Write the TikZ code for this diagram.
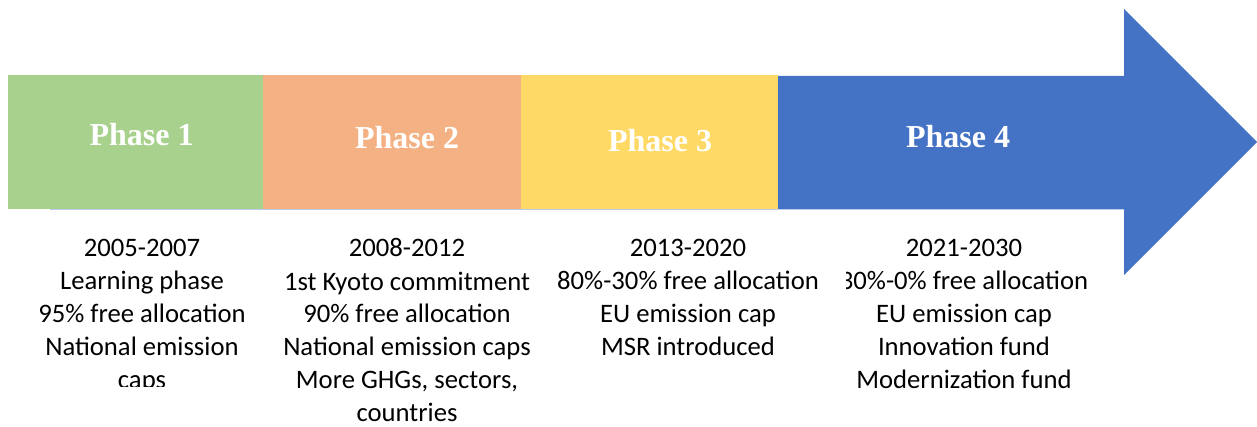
\documentclass[tikz,border=0pt]{standalone}
\usepackage{fontspec}
\setmainfont{Carlito}
\newfontfamily\headfont{Liberation Serif}
\usetikzlibrary{positioning}
\definecolor{phgreen}{HTML}{A9D18E}
\definecolor{phorange}{HTML}{F4B183}
\definecolor{phyellow}{HTML}{FFD966}
\definecolor{phblue}{HTML}{4472C4}
\tikzset{
  phasehead/.style={text=white,font=\headfont\bfseries\fontsize{24}{28}\selectfont,anchor=base,inner sep=0pt},
  % base sits on the last line of the note
  phasenote/.style={align=center,font=\fontsize{20}{24.75}\selectfont,anchor=base,inner sep=0pt}
}

\begin{document}
\begin{tikzpicture}[x=0.75pt,y=-0.75pt]
  \useasboundingbox (0,0) rectangle (1257,427);
  % big arrow behind the bands
  \fill[phblue] (50,76) -- (1124,76) -- (1124,9) -- (1257,142) -- (1124,275) -- (1124,209.5) -- (50,209.5) -- cycle;
  \foreach \xa/\xb/\c in {8/263/phgreen,263/521/phorange,521/778/phyellow}
    \fill[\c] (\xa,75) rectangle (\xb,209);
  % phase titles
  \foreach \n/\x/\y in {1/141.5/146,2/407/149,3/660/152,4/958/148}
    \node[phasehead] (head\n) at (\x,\y) {Phase \n};
  % notes under each phase
  \begin{scope}
    \clip (0,220) rectangle (270,387);
    \node[phasenote] (note1) at (142,389) {2005-2007\\Learning phase\\95\% free allocation\\National emission\\caps};
  \end{scope}
  \node[phasenote] (note2) at (407,422) {2008-2012\\1st Kyoto commitment\\90\% free allocation\\National emission caps\\More GHGs, sectors,\\countries};
  \node[phasenote] (note3) at (688,356) {2013-2020\\80\%-30\% free allocation\\EU emission cap\\MSR introduced};
  \begin{scope}
    \clip (846,220) rectangle (1257,427);
    \node[phasenote] (note4) at (964,389) {2021-2030\\30\%-0\% free allocation\\EU emission cap\\Innovation fund\\Modernization fund};
  \end{scope}
\end{tikzpicture}
\end{document}
